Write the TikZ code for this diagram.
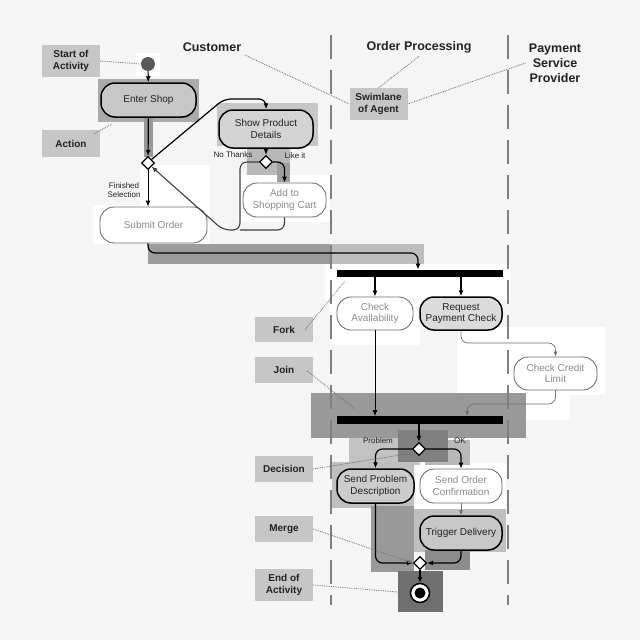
\documentclass[tikz,border=0pt]{standalone}
\usepackage{fontspec}
\setmainfont{Liberation Sans}
\usetikzlibrary{shapes.geometric,arrows.meta}
\definecolor{bgc}{HTML}{F5F5F5}
\definecolor{lblc}{HTML}{C6C6C6}
\definecolor{gtext}{HTML}{8A8A8A}
\definecolor{gdraw}{HTML}{6E6E6E}
\definecolor{dtext}{HTML}{222222}
\tikzset{
  act/.style={draw=black, rounded corners=14pt, minimum width=#1, minimum height=34pt, inner sep=0pt,
    align=center, font=\fontsize{10}{11.5}\selectfont, text=dtext, line width=1.5pt},
  actw/.style={draw=gdraw, rounded corners=14pt, minimum width=#1, minimum height=34pt, inner sep=0pt,
    align=center, font=\fontsize{10}{11.5}\selectfont, text=gtext, fill=white, line width=0.9pt},
  lbl/.style={fill=lblc, minimum width=58pt, minimum height=#1, inner sep=0pt, align=center,
    font=\bfseries\fontsize{10}{12}\selectfont, text=dtext},
  hdr/.style={align=center, font=\bfseries\fontsize{12.5}{15}\selectfont, text=dtext},
  dec/.style={diamond, draw=black, fill=white, minimum size=13pt, inner sep=0pt, line width=1.2pt},
  barnode/.style={fill=black, minimum width=166pt, minimum height=7.5pt, inner sep=0pt},
  lead/.style={densely dotted, draw=gdraw, line width=0.8pt},
  flow/.style={-{Latex[length=6pt,width=5pt]}, line width=1.2pt, rounded corners=7pt},
  thinflow/.style={-{Latex[length=5pt,width=4pt]}, line width=0.7pt, draw=gdraw, rounded corners=7pt},
  small/.style={font=\fontsize{8}{9.5}\selectfont, text=dtext, align=center},
  lane/.style={draw=gray, line width=1.2pt, dash pattern=on 24pt off 11pt},
  hl/.style={fill=#1, draw=none},
}
\begin{document}
\begin{tikzpicture}[x=1pt,y=-1pt]
\fill[bgc] (0,0) rectangle (640,640);
\useasboundingbox (0,0) rectangle (640,640);
% white patches
\fill[white] (136,53) rectangle (160,76);
\fill[white] (140,165) rectangle (210,244);
\fill[white] (93,205) rectangle (210,244);
\fill[white] (238,175) rectangle (330,222);
\fill[white] (325,264) rectangle (510,300);
\fill[white] (330,280) rectangle (420,345);
\fill[white] (458,327) rectangle (605,395);
\fill[white] (514,395) rectangle (570,420);
\fill[white] (416,463) rectangle (506,510);
% gray highlight patches
\fill[hl=black!33] (98,79) rectangle (199,122);
\fill[hl=black!40] (144,117) rectangle (153,157);
\fill[hl=black!22] (217,103) rectangle (318,146);
\fill[hl=black!28] (247,135) rectangle (290,175);
\fill[hl=black!38] (277,163) rectangle (290,182);
\fill[hl=black!39] (148,244) rectangle (330,264);
\fill[hl=black!26] (330,244) rectangle (424,264);
\fill[hl=black!40] (311,393) rectangle (526,438);
\fill[hl=black!24] (349,438) rectangle (420,465);
\fill[hl=black!28] (425,440) rectangle (470,465);
\fill[hl=black!25] (332,462) rectangle (414,508);
\fill[hl=black!50] (398,430) rectangle (448,462);
\fill[hl=black!40] (371,506) rectangle (414,572);
\fill[hl=black!25] (414,509) rectangle (506,552);
\fill[hl=black!45] (425,550) rectangle (470,570);
\fill[hl=black!56] (398,571) rectangle (443,612);
% swimlanes
\coordinate (l1t) at (331,35); \coordinate (l1b) at (331,605);
\coordinate (l2t) at (508,35); \coordinate (l2b) at (508,605);
\draw[lane] (l1t) -- (l1b);
\draw[lane] (l2t) -- (l2b);
% headers
\node[hdr] (hcust) at (212,47) {Customer};
\node[hdr] (hord) at (419,47) {Order Processing};
\node[hdr] (hpay) at (555,63) {Payment\\Service\\Provider};
% label boxes
\node[lbl=32pt] (lstart) at (71,61) {Start of\\Activity};
\node[lbl=27pt] (laction) at (71,143.5) {Action};
\node[lbl=32pt] (lswim) at (378.5,104) {Swimlane\\of Agent};
\node[lbl=25pt] (lfork) at (284,329.5) {Fork};
\node[lbl=26pt] (ljoin) at (284,370) {Join};
\node[lbl=26pt] (ldec) at (284,469) {Decision};
\node[lbl=26pt] (lmerge) at (284,529) {Merge};
\node[lbl=32pt] (lend) at (284,585) {End of\\Activity};
% nodes
\node[circle, fill=black!65, minimum size=14pt, inner sep=0pt] (start) at (148,64) {};
\node[act=95pt, fill=black!22] (enter) at (148.5,100) {Enter Shop};
\node[act=94pt, minimum height=38pt, fill=black!17] (spd) at (266,129) {Show Product\\Details};
\node[dec] (d1) at (148,163) {};
\node[dec] (d2) at (266,162) {};
\node[actw=83pt] (add) at (284.5,200) {Add to\\Shopping Cart};
\node[actw=107pt, minimum height=36pt] (submit) at (153.5,225) {Submit Order};
\node[barnode] (fork) at (419.5,273.5) {};
\node[actw=76pt, minimum height=33pt] (ca) at (375,313.5) {Check\\Availability};
\node[act=82pt, minimum height=33pt, fill=black!14] (rpc) at (461,313.5) {Request\\Payment Check};
\node[actw=83pt, minimum height=33pt] (ccl) at (555.5,373.5) {Check Credit\\Limit};
\node[barnode] (join) at (419.5,420) {};
\node[dec] (d3) at (419,449) {};
\node[act=77pt, fill=black!20] (spdesc) at (375.5,486) {Send Problem\\Description};
\node[actw=82pt] (soc) at (461,486) {Send Order\\Confirmation};
\node[act=82pt, fill=black!22] (td) at (461,533) {Trigger Delivery};
\node[dec] (merge) at (420,563) {};
\node[circle, draw=black, line width=1.5pt, fill=white, minimum size=19pt, inner sep=0pt] (end) at (420,593) {};
\fill[black] (end.center) circle (5.5pt);
% small labels
\node[small] (tfin) at (124,190) {Finished\\Selection};
\node[small] (tno) at (233,155) {No Thanks};
\node[small] (tlike) at (295,156) {Like it};
\node[small] (tprob) at (378,441) {Problem};
\node[small] (tok) at (460,441) {OK};
% helper coordinates
\coordinate (fin) at (418,253);
\coordinate (jin) at (467,404);
\coordinate (actpt) at (112,124);
\coordinate (joinpt) at (355,409);
\coordinate (forkpt) at (345,281);
% flows
\draw[flow] (start) -- (enter);
\draw[flow] (enter) -- (d1);
\draw[flow] (d1.north east) -- (224,99) -| (spd.north);
\draw[flow] (spd) -- (d2);
\draw[flow] (d2.east) -| (add.north);
\draw[line width=1.1pt, draw=black!75, rounded corners=7pt] (add.south) |- (240,230);
\draw[-{Latex[length=6pt,width=5pt]}, line width=1.1pt, draw=black!75, rounded corners=7pt] (d2.west) -- (240,162) -- (240,230) -- (223,230) -- (d1.south east);
\draw[flow, line width=0.9pt] (d1.south) -- (d1 |- submit.north);
\draw[flow] (d1 |- submit.south) -- (148,253) -- (fin) -- (fin |- fork.north);
\draw[flow] (fork.south -| ca.north) -- (ca.north);
\draw[flow] (fork.south -| rpc.north) -- (rpc.north);
\draw[thinflow] (rpc.south) -- (461,343) -- (555.5,343) -- (ccl.north);
\draw[flow, line width=0.8pt] (ca.south) -- (ca.south |- join.north);
\draw[thinflow] (ccl.south) -- (555.5,404) -- (jin) -- (jin |- join.north);
\draw[flow] (join.south -| d3) -- (d3.north);
\draw[flow] (d3.west) -| (spdesc.north);
\draw[flow] (d3.east) -| (soc.north);
\draw[thinflow] (soc.south) -- (td.north);
\draw[flow] (spdesc.south) |- (merge.west);
\draw[flow] (td.south) |- (merge.east);
\draw[flow] (merge.south) -- (end.north);
% leaders
\draw[lead] (lstart.east) -- (start.west);
\draw[lead] (laction.north east) ++(-6,4) -- (actpt);
\draw[lead] (hcust.south east) -- (lswim.west);
\draw[lead] (hord.south) -- (lswim.north);
\draw[lead] (hpay.west) -- (lswim.east);
\draw[lead] (lfork.east) ++(-8,0) -- (forkpt);
\draw[lead] (ljoin.east) ++(-6,1) -- (joinpt);
\draw[lead] (ldec.east) -- (d3.south west);
\draw[lead, -{Latex[length=5pt,width=4pt]}] (lmerge.east) -- (merge.west);
\draw[lead] (lend.east) -- (end.west);
\end{tikzpicture}
\end{document}
